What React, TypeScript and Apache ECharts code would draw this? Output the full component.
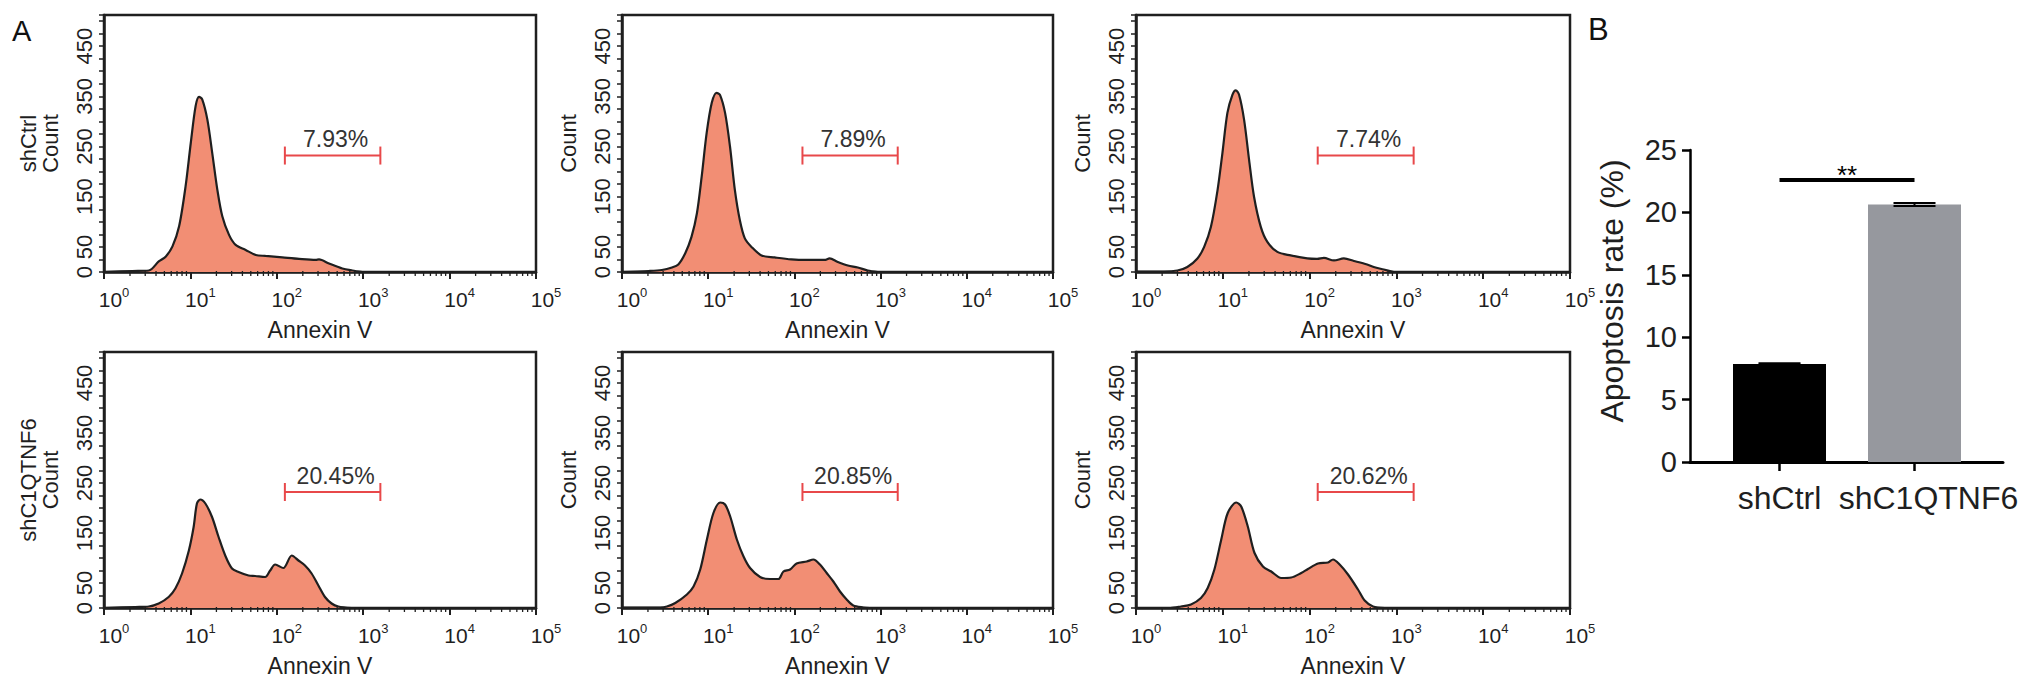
import React, { useEffect, useRef } from "react";
import * as echarts from "echarts";

// ---------- data ----------
const rowLabels = ["shCtrl", "shC1QTNF6"];
const gatePercents = ["7.93%", "7.89%", "7.74%", "20.45%", "20.85%", "20.62%"];
const gateRange = [124, 1580];
const gateCount = 232;
const countTickLabels = [0, 50, 150, 250, 350, 450];
const countMax = 512;
const annexinMin = 1;
const annexinMax = 100000;
const decadeExponents = [0, 1, 2, 3, 4];
const minorMultipliers = [2, 3, 4, 5, 6, 7, 8, 9];

const histTopLeft: number[][] = [
  [1, 0], [2.13, 2], [3.3, 3], [4.3, 21], [5.2, 31], [6.2, 51], [7.4, 91], [8.8, 171], [10.1, 257],
  [11.5, 331], [12.6, 349], [13.7, 344], [15.7, 304], [17.9, 237], [20.5, 164], [23.4, 111], [28, 74],
  [33.4, 54], [43.6, 44], [57, 34], [74, 32], [116, 29], [181, 26], [282, 24], [308, 25], [402, 17],
  [573, 7], [748, 3], [977, 0],
];
const histTopMid: number[][] = [
  [1, 0], [2.04, 2], [2.9, 4], [3.8, 9], [4.5, 15], [5.4, 37], [6.4, 70], [7.4, 117], [8.4, 190],
  [9.6, 277], [11.0, 337], [12.5, 357], [13.7, 353], [15.7, 317], [17.9, 250], [20.4, 163], [23.3, 103],
  [26.6, 67], [31.8, 50], [41.5, 33], [59, 29], [92, 25], [144, 24], [224, 24], [256, 27], [319, 20],
  [417, 13], [543, 9], [710, 3], [927, 0],
];
const histTopRight: number[][] = [
  [1, 1], [2.1, 1], [3.0, 3], [3.9, 10], [5.1, 27], [6.1, 50], [7.3, 90], [8.7, 163], [9.9, 237],
  [11.3, 317], [12.9, 353], [14.1, 362], [15.4, 353], [17.6, 303], [20.1, 223], [22.9, 150], [27.4, 90],
  [32.6, 60], [42.5, 40], [60.5, 33], [94, 27], [122, 26], [146, 28], [191, 23], [248, 27], [324, 22],
  [460, 15], [548, 10], [715, 5], [931, 0],
];
const histBottomLeft: number[][] = [
  [1, 0], [2.3, 2], [3.3, 3], [4.3, 9], [5.6, 22], [6.7, 39], [8.0, 69], [9.6, 115], [10.9, 162],
  [11.9, 209], [13.0, 217], [14.9, 209], [17.8, 182], [21.2, 142], [25.3, 105], [30.3, 79], [36.1, 72],
  [47.1, 65], [56.2, 64], [73.3, 62], [83.8, 75], [95.7, 87], [119, 80], [149, 105], [178, 95],
  [212, 85], [253, 69], [303, 45], [361, 22], [431, 9], [515, 3], [733, 0],
];
const histBottomMid: number[][] = [
  [1, 1], [2.78, 1], [3.32, 3], [4.15, 10], [5.66, 27], [6.76, 43], [8.08, 77], [9.66, 137], [11.5, 190],
  [13.8, 211], [15.7, 207], [18.0, 183], [21.5, 137], [25.7, 103], [30.6, 80], [40.0, 62], [52.2, 58],
  [65.3, 58], [74.6, 73], [89.1, 77], [106, 89], [139, 93], [166, 97], [198, 87], [237, 70], [283, 53],
  [338, 33], [404, 17], [482, 5], [630, 1], [752, 0],
];
const histBottomRight: number[][] = [
  [1, 0], [2.5, 0], [3.3, 3], [4.3, 7], [5.6, 20], [6.7, 40], [8.0, 77], [9.6, 137], [11.4, 190],
  [14.3, 211], [16.3, 203], [19.4, 163], [23.2, 110], [29.0, 83], [36.1, 73], [47.1, 60], [61.4, 61],
  [80.1, 70], [95.7, 78], [125, 89], [163, 91], [186, 97], [222, 87], [277, 67], [361, 37], [431, 15],
  [538, 3], [733, 0],
];

const barCategories = ["shCtrl", "shC1QTNF6"];
const barMeans = [7.85, 20.64];
const barErrors = [0.06, 0.12];
const sigY = 22.6;
const sigLabel = "**";

// ---------- styling / layout ----------
const FONT = "'Liberation Sans', Arial, Helvetica, sans-serif";
const INK = "#1f1f1f";
const FILL = "#F28E74";
const GATE = "#E8484A";
const barColors = ["#000000", "#96989E"];

const colLefts = [104, 622, 1136];
const colWidths = [432, 431, 434];
const rowTops = [15, 352];
const rowHeights = [257, 256];

function buildOption() {
  const hists = [histTopLeft, histTopMid, histTopRight, histBottomLeft, histBottomMid, histBottomRight];
  const grid: any[] = [];
  const xAxis: any[] = [];
  const yAxis: any[] = [];
  const series: any[] = [];

  // minor tick positions on the log axis (2..9 x each decade)
  const minorTicks: number[][] = [];
  decadeExponents.forEach((e) => minorMultipliers.forEach((m) => minorTicks.push([m * Math.pow(10, e), 0])));

  hists.forEach((data, i) => {
    const row = Math.floor(i / 3);
    const col = i % 3;
    grid.push({
      left: colLefts[col],
      top: rowTops[row],
      width: colWidths[col],
      height: rowHeights[row],
      show: true,
      borderColor: INK,
      borderWidth: 2.5,
      backgroundColor: "#fff",
    });
    xAxis.push({
      type: "log",
      logBase: 10,
      gridIndex: i,
      min: annexinMin,
      max: annexinMax,
      name: "Annexin V",
      nameLocation: "middle",
      nameGap: 46,
      nameTextStyle: { fontFamily: FONT, fontSize: 23, color: INK },
      axisLine: { show: true, lineStyle: { color: INK, width: 2.5 } },
      axisTick: { show: true, length: 7, lineStyle: { color: INK, width: 2 } },
      minorTick: { show: false },
      splitLine: { show: false },
      axisLabel: {
        margin: 14,
        formatter: (v: number) => `{p| }{b|10}{s|${Math.round(Math.log10(v))}}`,
        rich: {
          p: { width: 20, fontSize: 10 },
          b: { fontFamily: FONT, fontSize: 21, color: INK, lineHeight: 26 },
          s: { fontFamily: FONT, fontSize: 13, color: INK, lineHeight: 14, verticalAlign: "top" },
        },
      },
    });
    yAxis.push({
      type: "value",
      gridIndex: i,
      min: 0,
      max: countMax,
      interval: 25,
      name: col === 0 ? `${rowLabels[row]}\nCount` : "Count",
      nameLocation: "middle",
      nameRotate: 90,
      nameGap: 43,
      nameTextStyle: { fontFamily: FONT, fontSize: 22, lineHeight: 22, color: INK },
      axisLine: { show: true, lineStyle: { color: INK, width: 2.5 } },
      axisTick: { show: true, length: 5, lineStyle: { color: INK, width: 1.5 } },
      splitLine: { show: false },
      axisLabel: {
        rotate: 90,
        margin: 9,
        fontFamily: FONT,
        fontSize: 22,
        color: INK,
        formatter: (v: number) => (countTickLabels.indexOf(v) >= 0 ? String(v) : ""),
      },
    });
    series.push({
      type: "line",
      xAxisIndex: i,
      yAxisIndex: i,
      data,
      smooth: 0.3,
      symbol: "none",
      lineStyle: { color: INK, width: 2.2 },
      areaStyle: { color: FILL, opacity: 1 },
      z: 3,
    });
    // minor ticks of log axis
    series.push({
      type: "custom",
      xAxisIndex: i,
      yAxisIndex: i,
      data: minorTicks,
      encode: { x: 0, y: 1 },
      z: 4,
      silent: true,
      renderItem: (params: any, api: any) => {
        const p = api.coord([api.value(0), api.value(1)]);
        return {
          type: "line",
          shape: { x1: p[0], y1: p[1] - 1, x2: p[0], y2: p[1] + 4 },
          style: { stroke: INK, lineWidth: 1.3 },
        };
      },
    });
    series.push({
      type: "custom",
      xAxisIndex: i,
      yAxisIndex: i,
      data: [[gateRange[0], gateRange[1], gateCount]],
      encode: { x: [0, 1], y: 2 },
      z: 5,
      renderItem: (params: any, api: any) => {
        const a = api.value(0);
        const b = api.value(1);
        const c = api.value(2);
        const p1 = api.coord([a, c]);
        const p2 = api.coord([b, c]);
        const mid = api.coord([Math.sqrt(a * b), c]);
        const st = { stroke: GATE, lineWidth: 2 };
        return {
          type: "group",
          children: [
            { type: "line", shape: { x1: p1[0], y1: p1[1], x2: p2[0], y2: p2[1] }, style: st },
            { type: "line", shape: { x1: p1[0], y1: p1[1] - 9, x2: p1[0], y2: p1[1] + 9 }, style: st },
            { type: "line", shape: { x1: p2[0], y1: p2[1] - 9, x2: p2[0], y2: p2[1] + 9 }, style: st },
            {
              type: "text",
              x: mid[0] + 3,
              y: p1[1] - 5,
              style: {
                text: gatePercents[i],
                fill: "#333",
                fontFamily: FONT,
                fontSize: 23,
                textAlign: "center",
                textVerticalAlign: "bottom",
                align: "center",
                verticalAlign: "bottom",
              },
            },
          ],
        };
      },
    });
  });

  // ---- bar chart (panel B) ----
  grid.push({ left: 1712, top: 150, width: 270, height: 312 });
  xAxis.push({
    type: "category",
    gridIndex: 6,
    data: barCategories,
    axisLine: { show: false },
    axisTick: { show: true, alignWithLabel: true, length: 9, lineStyle: { color: "#000", width: 2.5 } },
    axisLabel: {
      interval: 0,
      margin: 20,
      formatter: (v: string, idx: number) => (idx === 1 ? `{r|${v}}` : `{l|${v}}`),
      rich: {
        l: { fontFamily: FONT, fontSize: 32, color: INK, padding: [0, 0, 0, 0] },
        r: { fontFamily: FONT, fontSize: 32, color: INK, padding: [0, 0, 0, 28] },
      },
    },
  });
  yAxis.push({
    type: "value",
    gridIndex: 6,
    min: 0,
    max: 25,
    interval: 5,
    offset: 22,
    name: "Apoptosis rate (%)",
    nameLocation: "middle",
    nameRotate: 90,
    nameGap: 62,
    nameTextStyle: { fontFamily: FONT, fontSize: 32, color: INK, padding: [0, 0, 0, 30] },
    axisLine: { show: true, lineStyle: { color: "#000", width: 2.5 } },
    axisTick: { show: true, length: 8, lineStyle: { color: "#000", width: 2.5 } },
    axisLabel: { margin: 13, fontFamily: FONT, fontSize: 29, color: INK },
    splitLine: { show: false },
  });
  grid.push({ left: 1690, top: 150, width: 313, height: 312 });
  xAxis.push({
    type: "value",
    gridIndex: 7,
    min: 0,
    max: 1,
    axisLine: { show: true, onZero: false, lineStyle: { color: "#000", width: 3 } },
    axisTick: { show: false },
    axisLabel: { show: false },
    splitLine: { show: false },
  });
  yAxis.push({ type: "value", gridIndex: 7, show: false, min: 0, max: 1 });

  series.push({
    type: "bar",
    xAxisIndex: 6,
    yAxisIndex: 6,
    barWidth: 93,
    data: barMeans.map((v, k) => ({ value: v, itemStyle: { color: barColors[k] } })),
    z: 2,
  });
  series.push({
    type: "custom",
    xAxisIndex: 6,
    yAxisIndex: 6,
    data: barMeans.map((m, k) => [k, m - barErrors[k], m + barErrors[k]]),
    encode: { x: 0, y: [1, 2] },
    z: 6,
    renderItem: (params: any, api: any) => {
      const lo = api.coord([api.value(0), api.value(1)]);
      const hi = api.coord([api.value(0), api.value(2)]);
      const st = { stroke: "#000", lineWidth: 2 };
      return {
        type: "group",
        children: [
          { type: "line", shape: { x1: lo[0], y1: lo[1], x2: hi[0], y2: hi[1] }, style: st },
          { type: "line", shape: { x1: hi[0] - 21, y1: hi[1], x2: hi[0] + 21, y2: hi[1] }, style: st },
          { type: "line", shape: { x1: lo[0] - 21, y1: lo[1], x2: lo[0] + 21, y2: lo[1] }, style: st },
        ],
      };
    },
  });
  series.push({
    type: "custom",
    xAxisIndex: 6,
    yAxisIndex: 6,
    data: [[0, 1, sigY]],
    encode: { x: [0, 1], y: 2 },
    z: 6,
    renderItem: (params: any, api: any) => {
      const p1 = api.coord([api.value(0), api.value(2)]);
      const p2 = api.coord([api.value(1), api.value(2)]);
      return {
        type: "group",
        children: [
          { type: "line", shape: { x1: p1[0], y1: p1[1], x2: p2[0], y2: p2[1] }, style: { stroke: "#000", lineWidth: 4 } },
          {
            type: "text",
            x: (p1[0] + p2[0]) / 2,
            y: p1[1] - 5,
            style: {
              text: sigLabel,
              fill: "#000",
              fontFamily: FONT,
              fontSize: 26,
              textAlign: "center",
              textVerticalAlign: "middle",
              align: "center",
              verticalAlign: "middle",
            },
          },
        ],
      };
    },
  });

  return {
    animation: false,
    backgroundColor: "#ffffff",
    grid,
    xAxis,
    yAxis,
    series,
    graphic: [
      { type: "text", left: 12, top: 16, style: { text: "A", fontFamily: FONT, fontSize: 29, fill: "#111" } },
      { type: "text", left: 1588, top: 14, style: { text: "B", fontFamily: FONT, fontSize: 31, fill: "#111" } },
    ],
  };
}

export default function App() {
  const ref = useRef<HTMLDivElement>(null);
  useEffect(() => {
    if (!ref.current) return;
    const chart = echarts.init(ref.current, undefined, { renderer: "svg" });
    chart.setOption(buildOption() as any);
    return () => chart.dispose();
  }, []);
  return (
    <div
      ref={ref}
      style={{ position: "fixed", left: 0, top: 0, width: 2032, height: 690, background: "#fff" }}
    />
  );
}
